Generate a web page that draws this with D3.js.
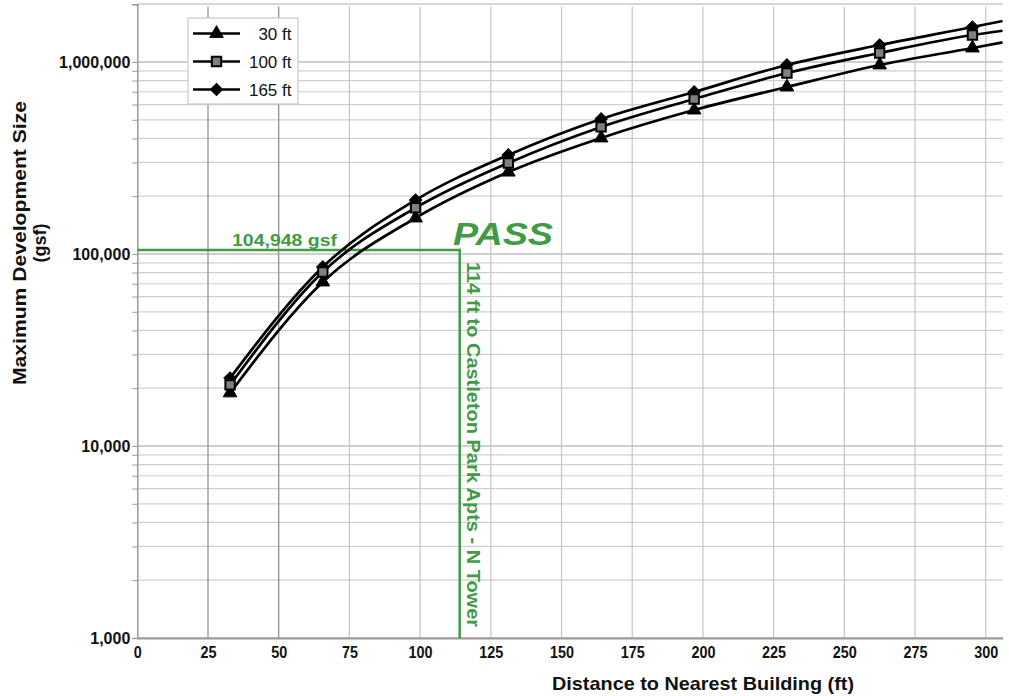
<!DOCTYPE html>
<html>
<head>
<meta charset="utf-8">
<script src="https://cdn.jsdelivr.net/npm/d3@7"></script>
<style>
  body { margin: 0; background: #fff; }
  svg { display: block; }
</style>
</head>
<body>
<div id="chart"></div>
<script>
// distances in ft (10 m steps) plus the point where the curve leaves the plot
var distances = [32.8, 65.6, 98.4, 131.2, 164.0, 196.9, 229.7, 262.5, 295.3, 306]
var size30  = [18900, 71500, 154000, 267000, 402000, 562000, 741000, 965000, 1183000, 1266000]
var size100 = [20800, 80600, 174000, 298000, 459000, 642000, 876000, 1114000, 1382000, 1455000]
var size165 = [22600, 85600, 191000, 328000, 505000, 698000, 965000, 1226000, 1521000, 1635000]
var seriesNames = ["30 ft", "100 ft", "165 ft"]
var xTicks = [0, 25, 50, 75, 100, 125, 150, 175, 200, 225, 250, 275, 300]
var yTicks = [1000, 10000, 100000, 1000000]
var passDistance = 114
var passSize = 104948

var width = 1009, height = 696
var green = "#3f9b45"

var svg = d3.select("#chart").append("svg")
  .attr("width", width)
  .attr("height", height)

var x = d3.scaleLinear().domain([0, 306]).range([137.3, 1002.7])
var y = d3.scaleLog().domain([1000, 2000000]).range([638, 4.2])

// grid
var minor = []
yTicks.forEach(function (d) {
  for (var k = 1; k < 10; k++) if (d * k <= 2000000) minor.push(d * k)
})
minor.push(2000000)

svg.append("g").selectAll("line")
  .data(minor)
  .enter().append("line")
    .attr("x1", x(0)).attr("x2", x(306))
    .attr("y1", function (d) { return y(d) }).attr("y2", function (d) { return y(d) })
    .style("stroke", function (d) { return yTicks.indexOf(d) >= 0 ? "#a0a0a0" : "#cfcfcf" })
    .style("stroke-width", 1.2)

svg.append("g").selectAll("line")
  .data(xTicks.slice(1))
  .enter().append("line")
    .attr("x1", function (d) { return x(d) }).attr("x2", function (d) { return x(d) })
    .attr("y1", 6.5).attr("y2", y(1000))
    .style("stroke", function (d) { return d <= 50 ? "#8a8a8a" : "#c4c4c4" })
    .style("stroke-width", 1.2)

// axes
var yAxis = svg.append("g")
  .attr("transform", "translate(" + x(0) + ",0)")
  .call(d3.axisLeft(y).tickValues(minor.slice(0, -1)).tickSize(5).tickPadding(2)
    .tickFormat(function (d) { return yTicks.indexOf(d) >= 0 ? d3.format(",")(d) : "" }))
yAxis.select(".domain").style("stroke", "#9a9a9a").style("stroke-width", 1.5)
yAxis.selectAll(".tick line").style("stroke", "#9a9a9a")
yAxis.selectAll("text")
  .style("font-family", "'Liberation Sans', Arial, sans-serif")
  .style("font-weight", "bold")
  .style("font-size", "16px")
  .style("fill", "#111")

var xAxis = svg.append("g")
  .attr("transform", "translate(0," + y(1000) + ")")
  .call(d3.axisBottom(x).tickValues(xTicks).tickSize(0).tickPadding(9))
xAxis.select(".domain").style("stroke", "#9a9a9a").style("stroke-width", 2)
xAxis.selectAll("text")
  .style("font-family", "'Liberation Sans', Arial, sans-serif")
  .style("font-weight", "bold")
  .style("font-size", "16px")
  .style("fill", "#111")
  .attr("textLength", function (d) { return String(d).length * 8 })
  .attr("lengthAdjust", "spacingAndGlyphs")

// axis titles
var titleFont = "'Liberation Sans', Arial, sans-serif"
svg.append("text")
  .attr("x", 703).attr("y", 690)
  .attr("text-anchor", "middle")
  .attr("textLength", 302).attr("lengthAdjust", "spacingAndGlyphs")
  .style("font-family", titleFont).style("font-weight", "bold").style("font-size", "19px")
  .style("fill", "#111")
  .text("Distance to Nearest Building (ft)")

svg.append("text")
  .attr("transform", "translate(26,243) rotate(-90)")
  .attr("text-anchor", "middle")
  .attr("textLength", 284).attr("lengthAdjust", "spacingAndGlyphs")
  .style("font-family", titleFont).style("font-weight", "bold").style("font-size", "19px")
  .style("fill", "#111")
  .text("Maximum Development Size")

svg.append("text")
  .attr("transform", "translate(46,243) rotate(-90)")
  .attr("text-anchor", "middle")
  .style("font-family", titleFont).style("font-weight", "bold").style("font-size", "18px")
  .style("fill", "#111")
  .text("(gsf)")

// pass annotation
svg.append("line")
  .attr("x1", x(0)).attr("x2", x(passDistance))
  .attr("y1", y(passSize)).attr("y2", y(passSize))
  .style("stroke", green).style("stroke-width", 2.5)
svg.append("line")
  .attr("x1", x(passDistance)).attr("x2", x(passDistance))
  .attr("y1", y(passSize) - 1.2).attr("y2", y(1000))
  .style("stroke", green).style("stroke-width", 2.5)

svg.append("text")
  .attr("x", 232).attr("y", 246)
  .attr("textLength", 105).attr("lengthAdjust", "spacingAndGlyphs")
  .style("font-family", titleFont).style("font-weight", "bold").style("font-size", "17px")
  .style("fill", green)
  .text(d3.format(",")(passSize) + " gsf")

svg.append("text")
  .attr("x", 453).attr("y", 245)
  .attr("textLength", 100).attr("lengthAdjust", "spacingAndGlyphs")
  .style("font-family", titleFont).style("font-weight", "bold").style("font-style", "italic")
  .style("font-size", "31px")
  .style("fill", green)
  .text("PASS")

svg.append("text")
  .attr("transform", "translate(467,262) rotate(90)")
  .attr("textLength", 365).attr("lengthAdjust", "spacingAndGlyphs")
  .style("font-family", titleFont).style("font-weight", "bold").style("font-size", "18px")
  .style("fill", green)
  .text(passDistance + " ft to Castleton Park Apts - N Tower")

// series
var series = [size30, size100, size165].map(function (vals, i) {
  return {
    name: seriesNames[i],
    values: vals.map(function (v, j) { return { d: distances[j], v: v } })
  }
})

svg.append("defs").append("clipPath").attr("id", "plot")
  .append("rect")
    .attr("x", x(0)).attr("y", 0)
    .attr("width", x(306) - x(0)).attr("height", y(1000))

var line = d3.line()
  .x(function (d) { return x(d.d) })
  .y(function (d) { return y(d.v) })
  .curve(d3.curveMonotoneX)

var plot = svg.append("g").attr("clip-path", "url(#plot)")

plot.selectAll("path.series")
  .data(series)
  .enter().append("path")
    .attr("class", "series")
    .attr("d", function (d) { return line(d.values) })
    .style("fill", "none")
    .style("stroke", "#000")
    .style("stroke-width", 2.7)

var symbols = [
  { type: d3.symbolTriangle, size: 80, fill: "#000", rot: 0 },
  { type: d3.symbolSquare, size: 88, fill: "#808080", rot: 0 },
  { type: d3.symbolSquare, size: 76, fill: "#000", rot: 45 }
]

function marker(sel, i) {
  sel.attr("d", d3.symbol().type(symbols[i].type).size(symbols[i].size)())
    .style("fill", symbols[i].fill)
    .style("stroke", "#000")
    .style("stroke-width", i == 1 ? 2 : 1)
}

// draw triangles, diamonds, then squares on top
[0, 2, 1].forEach(function (i) {
  plot.append("g").selectAll("path")
    .data(series[i].values.filter(function (d) { return d.d < 300 }))
    .enter().append("path")
      .attr("transform", function (d) { return "translate(" + x(d.d) + "," + y(d.v) + ") rotate(" + symbols[i].rot + ")" })
      .call(marker, i)
})

// legend
var legend = svg.append("g").attr("transform", "translate(188,18)")
legend.append("rect")
  .attr("width", 110).attr("height", 86)
  .style("fill", "#fff")
  .style("stroke", "#c8c8c8")
  .style("stroke-width", 1.2)

seriesNames.forEach(function (name, i) {
  var row = legend.append("g").attr("transform", "translate(0," + (15.5 + i * 28) + ")")
  row.append("line")
    .attr("x1", 5).attr("x2", 52)
    .style("stroke", "#000").style("stroke-width", 2.7)
  row.append("path")
    .attr("transform", "translate(28.5,0) rotate(" + symbols[i].rot + ")")
    .call(marker, i)
  row.append("text")
    .attr("x", 103.5).attr("y", 6)
    .attr("text-anchor", "end")
    .style("font-family", "'Liberation Sans', Arial, sans-serif")
    .style("font-size", "17px")
    .style("fill", "#111")
    .text(name)
})
</script>
</body>
</html>
